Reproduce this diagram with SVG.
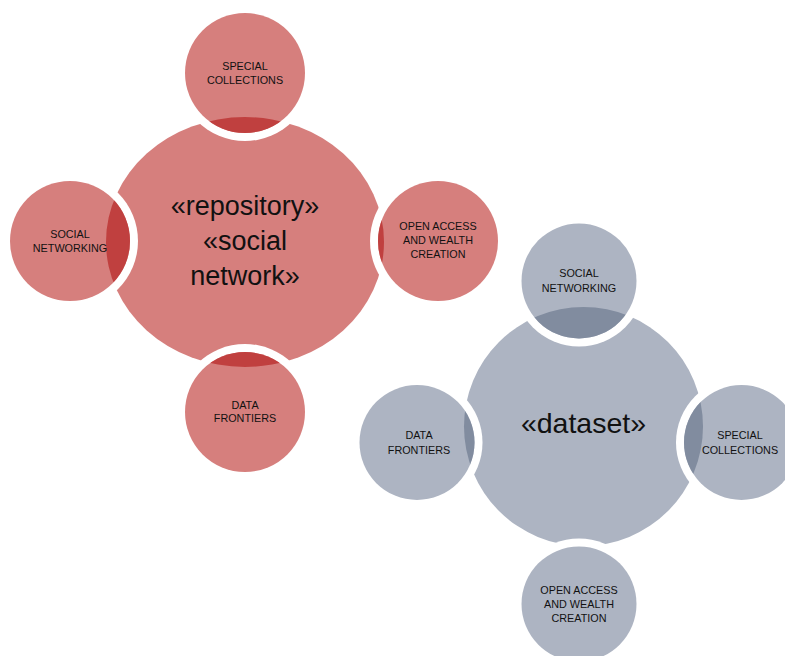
<svg xmlns="http://www.w3.org/2000/svg" width="785" height="656" viewBox="0 0 785 656">
<style>
.rl{fill:#D67F7D}
.rd{fill:#C0403F}
.gl{fill:#ADB4C2}
.gd{fill:#818C9F}
.halo{fill:#FFFFFF}
.sm{font-family:"Liberation Sans",Arial,sans-serif;font-size:10.8px;fill:#111;text-anchor:middle}
.bg{font-family:"Liberation Sans",Arial,sans-serif;font-size:27px;fill:#111;text-anchor:middle}
</style>
<defs>
<clipPath id="cRT"><circle cx="245" cy="73" r="60"/></clipPath>
<clipPath id="cRL"><circle cx="70" cy="241" r="60"/></clipPath>
<clipPath id="cRR"><circle cx="438" cy="241" r="60"/></clipPath>
<clipPath id="cRB"><circle cx="245" cy="412" r="60"/></clipPath>
<clipPath id="cGT"><circle cx="579" cy="281" r="57.5"/></clipPath>
<clipPath id="cGL"><circle cx="417" cy="442.5" r="57.5"/></clipPath>
<clipPath id="cGR"><circle cx="741.5" cy="442.5" r="57.5"/></clipPath>
<clipPath id="cGB"><circle cx="579" cy="604" r="57.5"/></clipPath>
</defs>

<g id="repository-hub">
<ellipse class="rl" cx="245" cy="242" rx="139" ry="125"/>
<text class="bg" x="245" y="215">«repository»</text>
<text class="bg" x="245" y="250">«social</text>
<text class="bg" x="245" y="285">network»</text>
</g>

<g id="red-special-collections">
<circle class="halo" cx="245" cy="73" r="68"/>
<circle class="rl" cx="245" cy="73" r="60"/>
<ellipse class="rd" cx="245" cy="242" rx="139" ry="125" clip-path="url(#cRT)"/>
<text class="sm" x="245" y="70">SPECIAL</text>
<text class="sm" x="245" y="84">COLLECTIONS</text>
</g>

<g id="red-social-networking">
<circle class="halo" cx="70" cy="241" r="68"/>
<circle class="rl" cx="70" cy="241" r="60"/>
<ellipse class="rd" cx="245" cy="242" rx="139" ry="125" clip-path="url(#cRL)"/>
<text class="sm" x="70" y="237.5">SOCIAL</text>
<text class="sm" x="70" y="251.5">NETWORKING</text>
</g>

<g id="red-open-access">
<circle class="halo" cx="438" cy="241" r="68"/>
<circle class="rl" cx="438" cy="241" r="60"/>
<ellipse class="rd" cx="245" cy="242" rx="139" ry="125" clip-path="url(#cRR)"/>
<text class="sm" x="438" y="230">OPEN ACCESS</text>
<text class="sm" x="438" y="244">AND WEALTH</text>
<text class="sm" x="438" y="258">CREATION</text>
</g>

<g id="red-data-frontiers">
<circle class="halo" cx="245" cy="412" r="68"/>
<circle class="rl" cx="245" cy="412" r="60"/>
<ellipse class="rd" cx="245" cy="242" rx="139" ry="125" clip-path="url(#cRB)"/>
<text class="sm" x="245" y="408.5">DATA</text>
<text class="sm" x="245" y="422">FRONTIERS</text>
</g>

<g id="dataset-hub">
<circle class="gl" cx="583.5" cy="426.5" r="119.5"/>
<text class="bg" x="583.5" y="433" style="font-size:28.5px">«dataset»</text>
</g>

<g id="grey-social-networking">
<circle class="halo" cx="579" cy="281" r="65.5"/>
<circle class="gl" cx="579" cy="281" r="57.5"/>
<circle class="gd" cx="583.5" cy="426.5" r="119.5" clip-path="url(#cGT)"/>
<text class="sm" x="579" y="277">SOCIAL</text>
<text class="sm" x="579" y="292">NETWORKING</text>
</g>

<g id="grey-data-frontiers">
<circle class="halo" cx="417" cy="442.5" r="65.5"/>
<circle class="gl" cx="417" cy="442.5" r="57.5"/>
<circle class="gd" cx="583.5" cy="426.5" r="119.5" clip-path="url(#cGL)"/>
<text class="sm" x="419" y="438.5">DATA</text>
<text class="sm" x="419" y="454">FRONTIERS</text>
</g>

<g id="grey-special-collections">
<circle class="halo" cx="741.5" cy="442.5" r="65.5"/>
<circle class="gl" cx="741.5" cy="442.5" r="57.5"/>
<circle class="gd" cx="583.5" cy="426.5" r="119.5" clip-path="url(#cGR)"/>
<text class="sm" x="740" y="438.5">SPECIAL</text>
<text class="sm" x="740" y="454">COLLECTIONS</text>
</g>

<g id="grey-open-access">
<circle class="halo" cx="579" cy="604" r="65.5"/>
<circle class="gl" cx="579" cy="604" r="57.5"/>
<circle class="gd" cx="583.5" cy="426.5" r="119.5" clip-path="url(#cGB)"/>
<text class="sm" x="579" y="593.5">OPEN ACCESS</text>
<text class="sm" x="579" y="607.5">AND WEALTH</text>
<text class="sm" x="579" y="622">CREATION</text>
</g>
</svg>
